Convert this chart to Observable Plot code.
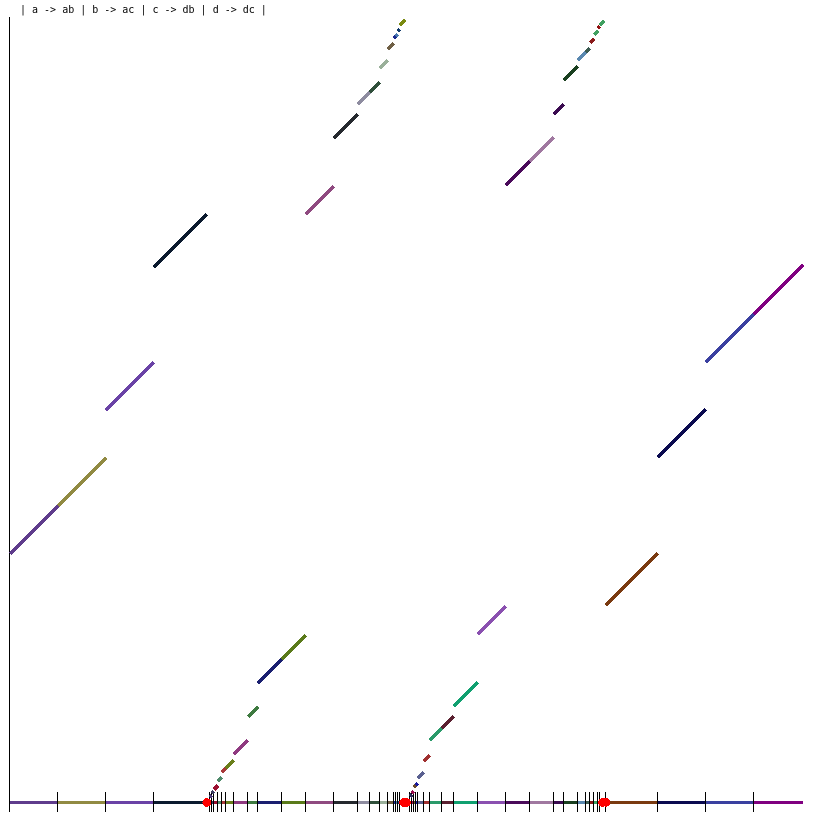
<!DOCTYPE html>
<html>
<head>
<meta charset="utf-8">
<script src="https://cdn.jsdelivr.net/npm/d3@7"></script>
<script src="https://cdn.jsdelivr.net/npm/@observablehq/plot@0.6"></script>
<style>
  html, body { margin: 0; padding: 0; background: #fff; }
  #wrap { position: relative; width: 813px; height: 816px; }
  #title { position: absolute; left: 20px; top: 4px; font: 10px/12px "DejaVu Sans Mono", "Liberation Mono", monospace; color: #000; white-space: pre; will-change: transform; }
  #chart { position: absolute; left: 0; top: 0; }
</style>
</head>
<body>
<div id="wrap"><div id="chart"></div><div id="title"></div></div>
<script>
const title = "| a -> ab | b -> ac | c -> db | d -> dc |";

// interval starts / ends along the line, height of the image at each start, colour
const starts = [
  0, 48, 96, 144,
  200, 202, 204, 208, 212, 216, 224, 238, 248, 272,
  296, 324, 348, 360, 370, 378, 384, 386, 388, 390,
  400, 402, 404, 406, 408, 414, 420, 432, 444, 468,
  496, 520, 544, 554, 568, 576, 580, 584, 588, 590,
  596, 648, 696, 744
];
const ends = [
  48, 96, 144, 197,
  202, 204, 208, 212, 216, 224, 238, 248, 272, 296,
  324, 348, 360, 370, 378, 384, 386, 388, 390, 395.4,
  402, 404, 406, 408, 414, 420, 432, 444, 468, 496,
  520, 544, 554, 568, 576, 580, 584, 588, 590, 594.4,
  648, 696, 744, 793.4
];
const heights = [
  248.7, 296.7, 392.5, 535.3,
  5.5, 8.9, 12.8, 21.2, 30, 34, 48, 85.7, 119.3, 143.3,
  588.5, 664, 698, 710, 734, 753.6, 764.5, 766, 771.3, 777.6,
  5.8, 9.6, 15.3, 17.3, 24, 41.6, 62, 74, 96, 168,
  617, 641, 688, 722, 742, 750, 759.7, 767.7, 774.3, 777,
  197, 345, 440.5, 488.5
];
const colors = [
  "#5f3c8c", "#918a42", "#6a42a6", "#0b1a2e",
  "#4a3a7a", "#3c3c64", "#9b1030", "#4f8a6a", "#a83a3a", "#6a7f1a", "#8f3a80", "#3e7a40", "#1a1f70", "#5a7a1a",
  "#8f4a80", "#25292e", "#8e8ca0", "#2f4f3a", "#9ab09a", "#6f5f45", "#1a2a90", "#4a7ab0", "#103a6a", "#7a8a10",
  "#2a2a5a", "#9a1050", "#6a4a2a", "#1a1aa0", "#5a6090", "#a03030", "#2a9a6a", "#5a2030", "#10a070", "#8a50b0",
  "#4a0a5a", "#a078a0", "#3a0a50", "#1a4020", "#5a88b0", "#3a5a50", "#8a1a1a", "#40a060", "#901010", "#40a060",
  "#7a3a10", "#0a0a50", "#3a40a0", "#800080"
];
const redDots = [197, 393.8, 396.9, 592.5, 596.2];

const segs = starts.map((x0, i) => ({
  x0, x1: ends[i], y0: heights[i], y1: heights[i] + (ends[i] - x0), color: colors[i]
}));

const chart = Plot.plot({
  width: 813,
  height: 816,
  marginLeft: 9.3,
  marginRight: 10.3,
  marginTop: 17,
  marginBottom: 4,
  x: {domain: [0, 793.4], axis: null},
  y: {domain: [-10, 785], axis: null},
  color: {type: "identity"},
  marks: [
    Plot.ruleX([0], {y1: -10, y2: 785, stroke: "black", strokeWidth: 1, shapeRendering: "crispEdges"}),
    Plot.link(segs, {x1: "x0", x2: "x1", y1: 0, y2: 0, stroke: "color", strokeWidth: 3.2, shapeRendering: "crispEdges"}),
    Plot.ruleX(segs.slice(1), {x: "x0", y1: -10, y2: 10, stroke: "black", strokeWidth: 1, shapeRendering: "crispEdges"}),
    Plot.link(segs, {x1: "x0", y1: "y0", x2: "x1", y2: "y1", stroke: "color", strokeWidth: 3.6, shapeRendering: "crispEdges"}),
    Plot.dot(redDots, {x: d => d, y: 0, r: 4.3, fill: "red", stroke: "none", shapeRendering: "crispEdges"})
  ]
});
document.getElementById("chart").appendChild(chart);
document.getElementById("title").textContent = title;
</script>
</body>
</html>
